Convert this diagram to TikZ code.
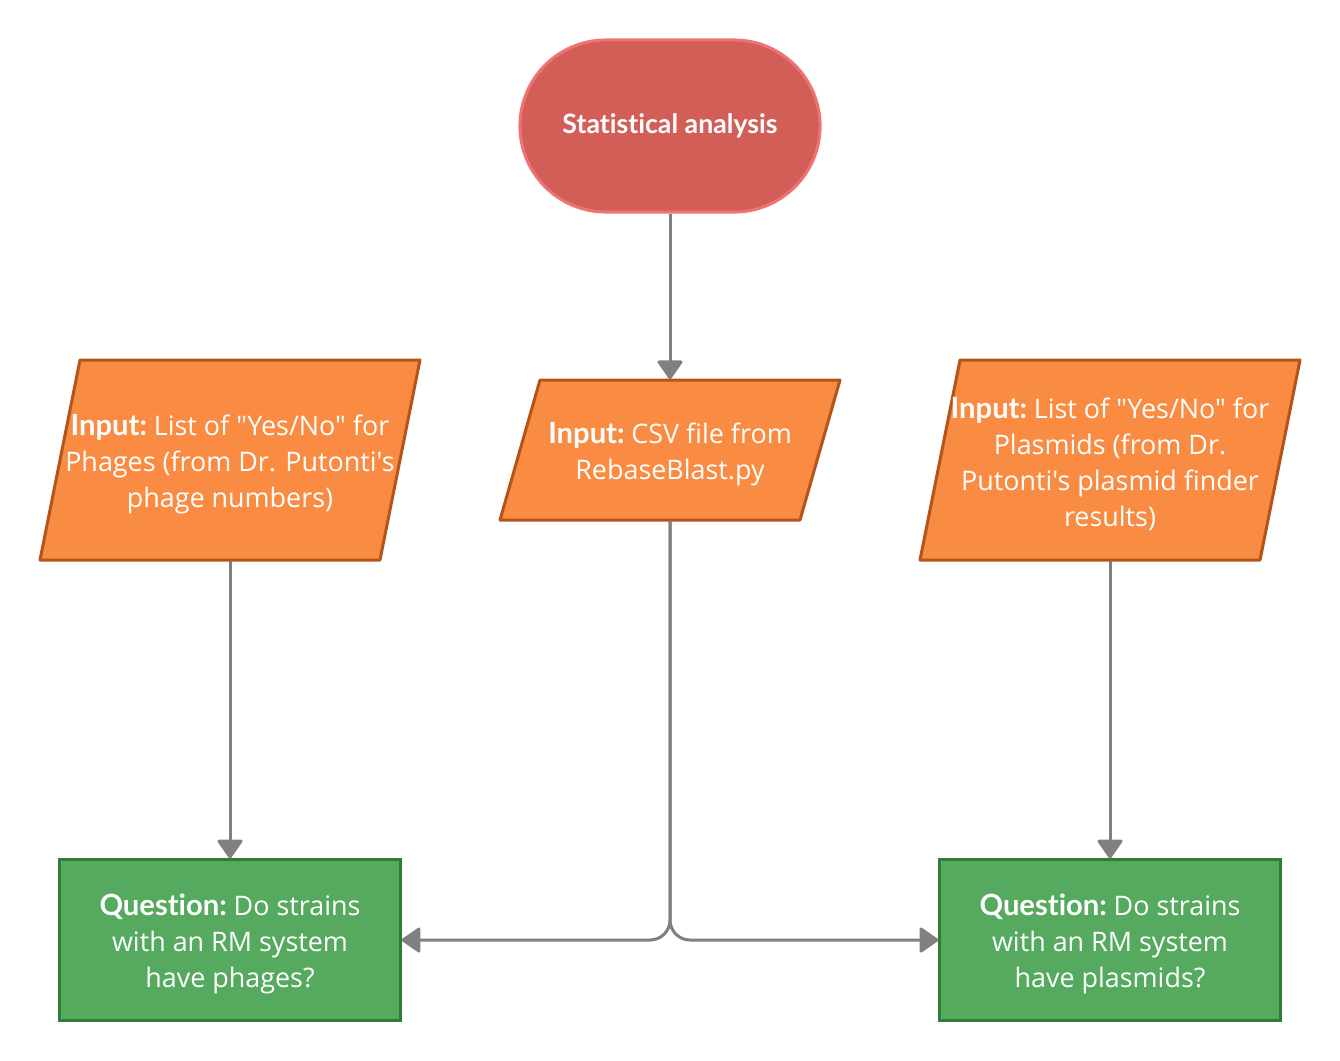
\documentclass[tikz,border=0pt]{standalone}
\usepackage{fontspec}
\setmainfont{Open Sans}[Ligatures=TeXOff]
\newfontfamily\latofont{Lato}[Ligatures={TeXOff,NoCommon}]
\usetikzlibrary{arrows.meta,shapes.misc}
\definecolor{termfill}{HTML}{D35E58}
\definecolor{termline}{HTML}{F07373}
\definecolor{infill}{HTML}{F98B43}
\definecolor{inline}{HTML}{B5541A}
\definecolor{qfill}{HTML}{55AA60}
\definecolor{qline}{HTML}{2E7D32}
\definecolor{arrgray}{HTML}{808080}
\tikzset{
  txt/.style={text=white, align=center, font=\fontsize{7.65pt}{10.2pt}\selectfont, inner sep=0pt},
  inshape/.style={fill=infill, draw=inline, line width=0.03cm, line join=round},
  qbox/.style={draw=qline, fill=qfill, line width=0.03cm, minimum width=3.4cm, minimum height=1.6cm},
  termbox/.style={rounded rectangle, draw=termline, fill=termfill, line width=0.03cm, minimum width=3cm, minimum height=1.72cm},
  arr/.style={draw=arrgray, line width=0.03cm, -{Triangle[length=0.2cm,width=0.27cm,round]}},
}
\newcommand{\bl}[1]{{\latofont\bfseries\fontsize{8.3pt}{10.2pt}\selectfont #1}\hspace{-0.025cm}}
\begin{document}
\begin{tikzpicture}[x=0.01cm,y=-0.01cm]
\useasboundingbox (0,0) rectangle (1340,1060);
% terminal
\node[termbox, txt] (t) at (670,126) {\latofont\bfseries\fontsize{7.6pt}{10pt}\selectfont Statistical analysis};
% parallelograms
\draw[inshape] (80,360) -- (420,360) -- (380,560) -- (40,560) -- cycle;
\draw[inshape] (540,380) -- (840,380) -- (800,520) -- (500,520) -- cycle;
\draw[inshape] (960,360) -- (1300,360) -- (1260,560) -- (920,560) -- cycle;
\node[txt, minimum width=3cm, minimum height=2cm] (pl) at (230,460) {};
\node[txt] at (230,464) {\bl{Input:} List of "Yes/No" for\\Phages (from Dr. Putonti's\\phage numbers)};
\node[txt, minimum width=2.6cm, minimum height=1.4cm] (pm) at (670,450) {};
\node[txt] at (670,454) {\bl{Input:} CSV file from\\RebaseBlast.py};
\node[txt, minimum width=3cm, minimum height=2cm] (pr) at (1110,460) {};
\node[txt] at (1110,464) {\bl{Input:} List of "Yes/No" for\\Plasmids (from Dr.\\Putonti's plasmid finder\\results)};
% question boxes
\node[qbox] (ql) at (230,940) {};
\node[txt] at (230,944) {\bl{Question:} Do strains\\with an RM system\\have phages?};
\node[qbox] (qr) at (1110,940) {};
\node[txt] at (1110,944) {\bl{Question:} Do strains\\with an RM system\\have plasmids?};
% connectors
\draw[arr] (t.south) -- (pm.north);
\draw[arr] (pl.south) -- (ql.north);
\draw[arr] (pr.south) -- (qr.north);
\draw[arr, rounded corners=0.2cm] (pm.south) |- (ql.east);
\draw[arr, rounded corners=0.2cm] (pm.south) |- (qr.west);
\end{tikzpicture}
\end{document}
